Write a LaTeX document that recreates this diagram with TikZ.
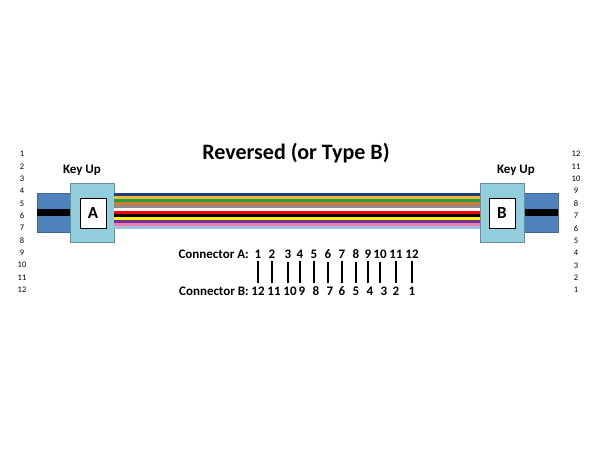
\documentclass[tikz,border=0pt]{standalone}
\usepackage{fontspec}
\setmainfont{Carlito}
\definecolor{sheathblue}{HTML}{4F81BD}
\definecolor{bodyblue}{HTML}{92CDDC}
\definecolor{fslate}{HTML}{8C8C8C}
\definecolor{fbrown}{HTML}{D9782B}
\definecolor{forange}{HTML}{F5B83A}
\definecolor{fgreen}{HTML}{1E9E4A}
\definecolor{fblue}{HTML}{1F3F7A}
\definecolor{fviolet}{HTML}{7030A0}
\definecolor{frose}{HTML}{F07CA8}
\definecolor{faqua}{HTML}{9DC3E6}
\definecolor{fyellow}{HTML}{FFF200}
\begin{document}
\begin{tikzpicture}[x=1pt,y=-1pt,
    sheath/.style={fill=sheathblue, draw=sheathblue!80!black, line width=0.4pt},
    body/.style={fill=bodyblue, draw=bodyblue!70!black, line width=0.4pt},
    letterbox/.style={fill=white, draw=black, line width=0.6pt, minimum width=26pt,
        minimum height=30pt, font=\bfseries\fontsize{17}{17}\selectfont, inner sep=0pt},
    label/.style={font=\bfseries\fontsize{13}{14}\selectfont, inner sep=1pt},
    sidenum/.style={font=\fontsize{8.5}{9}\selectfont, inner sep=0pt},
    pinnum/.style={font=\bfseries\fontsize{13}{14}\selectfont, inner sep=1pt}
]
\useasboundingbox (0,0) rectangle (610,450);
% cables and connector bodies
\draw[sheath] (37,193) rectangle (70,232);
\draw[sheath] (524,193) rectangle (558,232);
\fill[black] (37,209) rectangle (70,216);
\fill[black] (524,209) rectangle (558,216);
\draw[body] (70,183) rectangle (114,242);
\draw[body] (480,183) rectangle (524,242);
% fibre ribbon
\fill[white] (114,193) rectangle (480,229);
\foreach \c [count=\k] in {fblue,forange,fgreen,fbrown,fslate,white,red,black,fyellow,fviolet,frose,faqua}
    \fill[\c] (114,{193+(\k-1)*3}) rectangle (480,{193+\k*3-0.3});
\node[letterbox] (boxA) at (93,213) {A};
\node[letterbox] (boxB) at (502,213) {B};
\node[label] (keyA) at (82,170) {Key Up};
\node[label] (keyB) at (516,170) {Key Up};
\node[font=\bfseries\fontsize{22}{24}\selectfont] (title) at (296,153) {Reversed (or Type B)};
% side numbering
\foreach \i in {1,...,12} {
    \node[sidenum] (left\i) at (22,{154+(\i-1)*12.36}) {\i};
    \node[sidenum] (right\i) at (576,{290-(\i-1)*12.36}) {\i};
}
% pin map
\node[label, anchor=east] (conA) at (250,254) {Connector A:};
\node[label, anchor=east] (conB) at (250,291) {Connector B:};
\foreach \i/\x in {1/258,2/272,3/288,4/300,5/314,6/328,7/342,8/356,9/368,10/380,11/396,12/412}
    \node[pinnum] (a\i) at (\x,254) {\i};
\foreach \i/\x in {12/258,11/274,10/290,9/302,8/316,7/330,6/342,5/356,4/370,3/384,2/396,1/412}
    \node[pinnum] (b\i) at (\x,291) {\i};
\foreach \i in {1,...,12}
    \draw[line width=1.3pt] (a\i.south) ++(0,2) coordinate (top\i) -- (top\i |- 0,283);
\end{tikzpicture}
\end{document}
